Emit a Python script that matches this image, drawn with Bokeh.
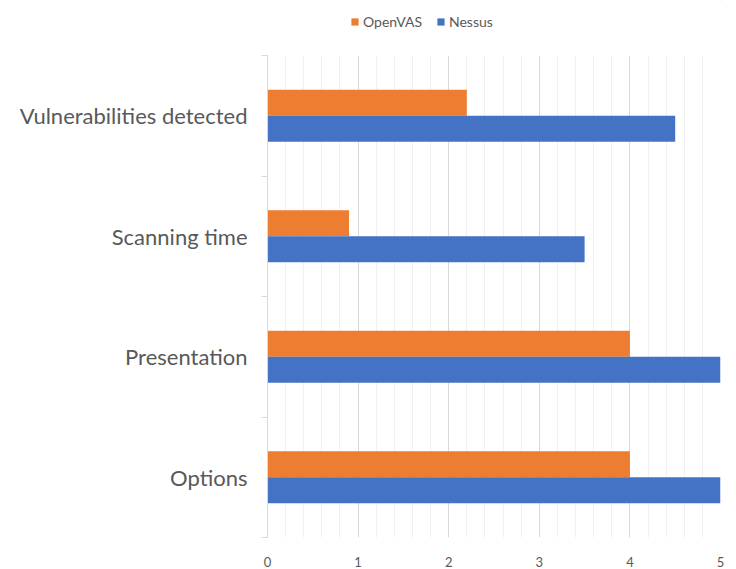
from bokeh.plotting import figure
from bokeh.layouts import column
from bokeh.models import FixedTicker, Legend, LegendItem, ColumnDataSource
from bokeh.embed import file_html
from bokeh.resources import INLINE
import numpy as np

categories = ["Options", "Presentation", "Scanning time", "Vulnerabilities detected"]
openvas = [4.0, 4.0, 0.9, 2.2]
nessus = [5.0, 5.0, 3.5, 4.5]
x_ticks = [0, 1, 2, 3, 4, 5]
series = ["OpenVAS", "Nessus"]

ORANGE = "#ED7D31"
BLUE = "#4472C4"
FONT = "Lato"
TXT = "#595959"

n = len(categories)
centers = np.arange(n) + 0.5
bar_h = 0.215

# ---- legend strip (dummy renderers drawn outside the visible range) ----
lg = figure(width=736, height=40, output_backend="svg", toolbar_location=None,
            x_range=(0, 1), y_range=(0, 1), min_border=0)
lg.axis.visible = False
lg.grid.visible = False
lg.outline_line_color = None
d_o = lg.hbar(y=[10], right=[10], left=[9], height=0.1, fill_color=ORANGE, line_color=None)
d_n = lg.hbar(y=[10], right=[10], left=[9], height=0.1, fill_color=BLUE, line_color=None)
legend = Legend(items=[LegendItem(label=series[0], renderers=[d_o]),
                       LegendItem(label=series[1], renderers=[d_n])],
                orientation="horizontal", location=(83, 10),
                label_text_font=FONT, label_text_font_size="14px", label_text_color=TXT,
                glyph_width=9, glyph_height=9, spacing=14, label_standoff=4,
                border_line_color=None, background_fill_alpha=0, padding=0, margin=0)
lg.add_layout(legend)

# ---- main chart ----
p = figure(width=736, height=529, output_backend="svg", toolbar_location=None,
           x_range=(0, 5), y_range=(0, n),
           min_border_left=267, min_border_right=16, min_border_top=15, min_border_bottom=29)
p.outline_line_color = None
p.background_fill_color = "white"
p.border_fill_color = "white"

src_o = ColumnDataSource(dict(y=centers + bar_h / 2, v=openvas))
src_n = ColumnDataSource(dict(y=centers - bar_h / 2, v=nessus))
p.hbar(y="y", right="v", left=0, height=bar_h, source=src_o, fill_color=ORANGE, line_color=None)
p.hbar(y="y", right="v", left=0, height=bar_h, source=src_n, fill_color=BLUE, line_color=None)

p.xaxis.ticker = FixedTicker(ticks=x_ticks, minor_ticks=list(np.round(np.arange(0, 5.01, 0.2), 2)))
p.xaxis.axis_line_color = None
p.xaxis.major_tick_line_color = None
p.xaxis.minor_tick_line_color = None
p.xaxis.major_label_text_font = FONT
p.xaxis.major_label_text_font_size = "13px"
p.xaxis.major_label_text_color = TXT
p.xaxis.major_label_standoff = 13

p.xgrid.grid_line_color = "#d9d9d9"
p.xgrid.minor_grid_line_color = "#f0f0f0"
p.ygrid.grid_line_color = None

p.yaxis.ticker = FixedTicker(ticks=list(centers), minor_ticks=list(range(n + 1)))
p.yaxis.major_label_overrides = {float(c): lab for c, lab in zip(centers, categories)}
p.yaxis.axis_line_color = "#d9d9d9"
p.yaxis.major_tick_line_color = None
p.yaxis.minor_tick_line_color = "#d9d9d9"
p.yaxis.minor_tick_out = 6
p.yaxis.minor_tick_in = 0
p.yaxis.major_label_text_font = FONT
p.yaxis.major_label_text_font_size = "22px"
p.yaxis.major_label_text_color = TXT
p.yaxis.major_label_standoff = 14

layout = column(lg, p, spacing=0)
open("out.html", "w").write(file_html(layout, INLINE))
